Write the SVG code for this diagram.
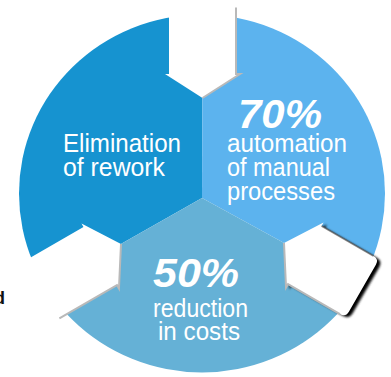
<svg xmlns="http://www.w3.org/2000/svg" width="391" height="377" viewBox="0 0 391 377">
  <defs>
    <style>
      .lbl { font-family: "Liberation Sans", Arial, sans-serif; font-size: 26.5px; fill: #ffffff; }
      .pct { font-family: "Liberation Sans", Arial, sans-serif; font-size: 40px; font-weight: bold; font-style: italic; fill: #ffffff; }
      .notch { fill: #ffffff; }
      .edge { fill: none; stroke: #b9b9b9; stroke-width: 2; }
    </style>
    <clipPath id="disc">
      <ellipse cx="202" cy="193.5" rx="183" ry="179"/>
    </clipPath>
    <path id="arrow" d="M0,0 L37.5,-24 L33.5,-24 L33.5,-84 Q33.5,-90.5 27,-90.5 L-27,-90.5 Q-33.5,-90.5 -33.5,-84 L-33.5,-24 L-37.5,-24 Z"/>
    <filter id="blur" x="-20%" y="-20%" width="140%" height="140%">
      <feGaussianBlur stdDeviation="1"/>
    </filter>
  </defs>
  <rect width="391" height="377" fill="#ffffff"/>

  <text x="-6" y="304" style="font-family: 'Liberation Sans', Arial, sans-serif; font-size: 18px; font-weight: bold; fill: #111111;">d</text>

  <g id="seg-rework" clip-path="url(#disc)">
    <polygon points="202,198 203,-50 -50,-50 -50,341" fill="#1693d0"/>
  </g>
  <g id="seg-automation" clip-path="url(#disc)">
    <polygon points="202,198 203,-50 450,-50 450,334" fill="#5cb3ee"/>
  </g>
  <g id="seg-costs" clip-path="url(#disc)">
    <polygon points="202,198 -50,341 -50,450 450,450 450,334" fill="#65b1d6"/>
  </g>

  <g id="notches">
    <g id="notch-top" transform="translate(202.5,98)">
      <use href="#arrow" class="notch"/>
      <path class="edge" d="M0,0 L37.5,-24 L33.5,-24 L33.5,-90.5"/>
    </g>
    <g id="notch-left" transform="translate(121,244) rotate(-120)">
      <use href="#arrow" class="notch"/>
      <path class="edge" d="M0,0 L-37.5,-24 L-33.5,-24 L-33.5,-90.5"/>
    </g>
    <g id="notch-right">
      <g transform="translate(287.5,245) rotate(120)" filter="url(#blur)">
        <use href="#arrow" fill="#000000"/>
      </g>
      <g transform="translate(284,243) rotate(120)">
        <use href="#arrow" class="notch"/>
        <path class="edge" d="M0,0 L37.5,-24 L33.5,-24 L33.5,-84"/>
        <path d="M-33.5,-24 L-33.5,-84" fill="none" stroke="#555555" stroke-width="1.5" stroke-opacity="0.7"/>
      </g>
    </g>
  </g>

  <g id="text-rework">
    <text class="lbl" x="63" y="152" textLength="118" lengthAdjust="spacingAndGlyphs">Elimination</text>
    <text class="lbl" x="63" y="176" textLength="102" lengthAdjust="spacingAndGlyphs">of rework</text>
  </g>
  <g id="text-automation">
    <text class="pct" x="238" y="128" textLength="84" lengthAdjust="spacingAndGlyphs">70%</text>
    <text class="lbl" x="227" y="152" textLength="120" lengthAdjust="spacingAndGlyphs">automation</text>
    <text class="lbl" x="227" y="176" textLength="103" lengthAdjust="spacingAndGlyphs">of manual</text>
    <text class="lbl" x="227" y="200" textLength="108" lengthAdjust="spacingAndGlyphs">processes</text>
  </g>
  <g id="text-costs">
    <text class="pct" x="153" y="287" textLength="86" lengthAdjust="spacingAndGlyphs">50%</text>
    <text class="lbl" x="153" y="317" textLength="95" lengthAdjust="spacingAndGlyphs">reduction</text>
    <text class="lbl" x="158" y="340" textLength="82" lengthAdjust="spacingAndGlyphs">in costs</text>
  </g>
</svg>
